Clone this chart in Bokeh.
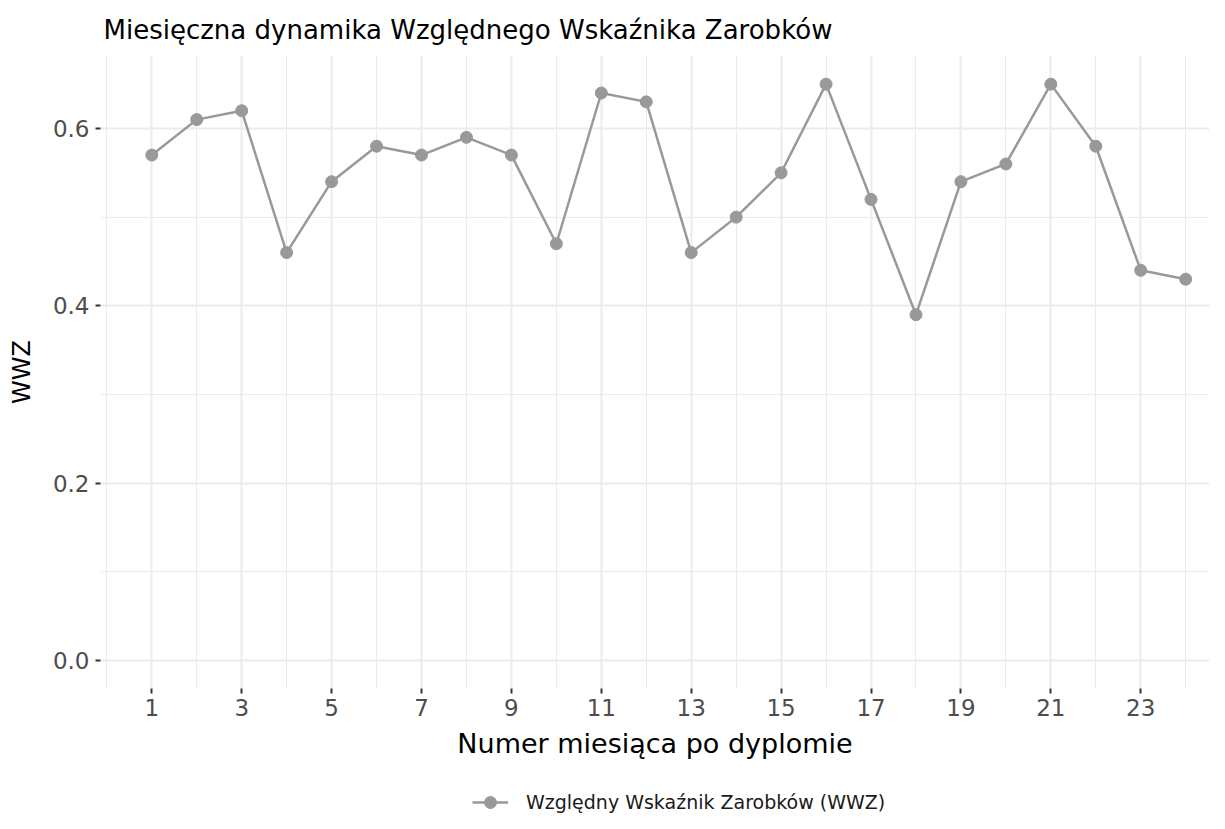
from bokeh.plotting import figure
from bokeh.layouts import column
from bokeh.models import FixedTicker, Range1d, Legend, LegendItem, Title
from bokeh.embed import file_html
from bokeh.resources import INLINE

months = list(range(1, 25))
wwz = [0.57, 0.61, 0.62, 0.46, 0.54, 0.58, 0.57, 0.59, 0.57, 0.47, 0.64, 0.63,
       0.46, 0.50, 0.55, 0.65, 0.52, 0.39, 0.54, 0.56, 0.65, 0.58, 0.44, 0.43]
x_ticks = [1, 3, 5, 7, 9, 11, 13, 15, 17, 19, 21, 23]
x_minor = [0, 2, 4, 6, 8, 10, 12, 14, 16, 18, 20, 22, 24]
y_ticks = [0.0, 0.2, 0.4, 0.6]
y_minor = [0.1, 0.3, 0.5]
series_name = "Względny Wskaźnik Zarobków (WWZ)"

FONT = "DejaVu Sans"
GREY = "#999999"

p = figure(width=1209, height=775, output_backend="svg", toolbar_location=None,
           x_range=Range1d(-0.141, 24.53), y_range=Range1d(-0.0316, 0.6823),
           min_border_left=100, min_border_right=0, min_border_top=55, min_border_bottom=87)
p.outline_line_color = None
p.background_fill_color = "white"

p.title = Title(text="Miesięczna dynamika Względnego Wskaźnika Zarobków", text_font=FONT,
                text_font_size="26px", text_font_style="normal", text_color="#000000",
                align="left", offset=3, standoff=21)

p.line(months, wwz, line_color=GREY, line_width=2.5)
p.scatter(months, wwz, size=12, fill_color=GREY, line_color=GREY)

p.xaxis.ticker = FixedTicker(ticks=x_ticks, minor_ticks=x_minor)
p.yaxis.ticker = FixedTicker(ticks=y_ticks, minor_ticks=y_minor)
p.yaxis.major_label_overrides = {v: f"{v:.1f}" for v in y_ticks}

for ax in (p.xaxis[0], p.yaxis[0]):
    ax.axis_line_color = None
    ax.major_tick_line_color = "#333333"
    ax.major_tick_line_width = 2
    ax.major_tick_in = 0
    ax.major_tick_out = 5
    ax.minor_tick_line_color = None
    ax.major_label_text_font = FONT
    ax.major_label_text_font_size = "23px"
    ax.major_label_text_color = "#4D4D4D"
    ax.axis_label_text_font = FONT
    ax.axis_label_text_font_style = "normal"
    ax.axis_label_text_color = "#000000"

p.xaxis.axis_label = "Numer miesiąca po dyplomie"
p.yaxis.axis_label = "WWZ"
p.xaxis.axis_label_text_font_size = "27px"
p.yaxis.axis_label_text_font_size = "24px"
p.xaxis.major_label_standoff = 5
p.yaxis.major_label_standoff = 6
p.xaxis.axis_label_standoff = 9
p.yaxis.axis_label_standoff = 14

for g in (p.xgrid[0], p.ygrid[0]):
    g.grid_line_color = "#EBEBEB"
    g.grid_line_width = 2
    g.minor_grid_line_color = "#EBEBEB"
    g.minor_grid_line_width = 1

# legend strip (ggplot-style legend below the panel)
pl = figure(width=1209, height=38, output_backend="svg", toolbar_location=None,
            x_range=Range1d(1000, 1001), y_range=Range1d(1000, 1001),
            min_border_left=0, min_border_right=0, min_border_top=0, min_border_bottom=0)
pl.axis.visible = False
pl.grid.visible = False
pl.outline_line_color = None
l1 = pl.line(months, wwz, line_color=GREY, line_width=2.5)
l2 = pl.scatter(months, wwz, size=12, fill_color=GREY, line_color=GREY)
legend = Legend(items=[LegendItem(label=series_name, renderers=[l1, l2])],
                location=(372, -4), orientation="horizontal",
                glyph_width=36, glyph_height=30, label_standoff=18,
                padding=0, margin=0, spacing=0,
                border_line_color=None, background_fill_alpha=0,
                label_text_font=FONT, label_text_font_size="19px", label_text_color="#1A1A1A")
pl.add_layout(legend, "center")

layout = column(p, pl, spacing=0)
open("out.html", "w").write(file_html(layout, INLINE))
